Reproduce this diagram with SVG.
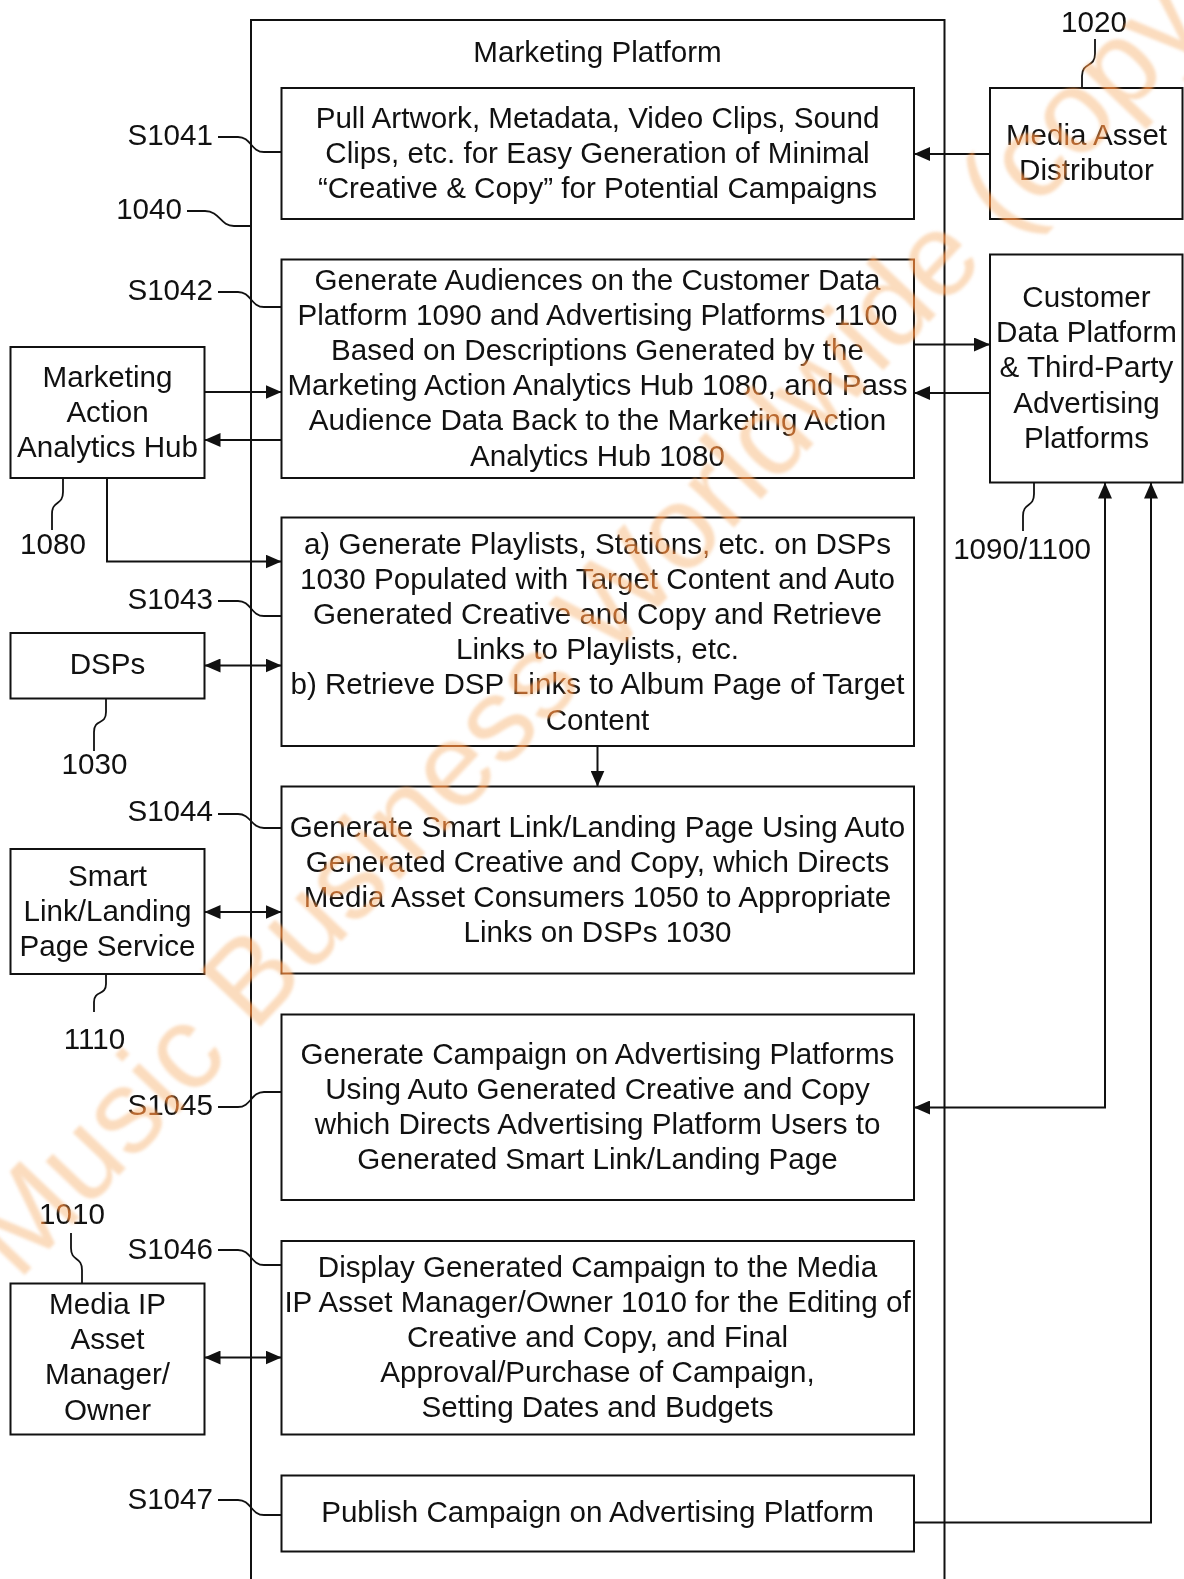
<svg xmlns="http://www.w3.org/2000/svg" width="1184" height="1579" viewBox="0 0 1184 1579">
  <style>
    .box { fill: #fff; stroke: #111; stroke-width: 2; }
    .frame { fill: none; stroke: #111; stroke-width: 2; }
    .wire { fill: none; stroke: #111; stroke-width: 2; }
    .lead { fill: none; stroke: #111; stroke-width: 1.8; }
    text { font-family: "Liberation Sans", Arial, Helvetica, sans-serif; font-size: 29.6px; fill: #111; }
    .c { text-anchor: middle; }
    .r { text-anchor: end; }
    .wm { font-family: "Liberation Sans", Arial, sans-serif; font-size: 118.5px; }
    .wm-glow { fill: #B87030; mix-blend-mode: screen; }
    .wm-tint { fill: #FBDCBE; mix-blend-mode: multiply; }
  </style>
  <defs>
    <marker id="arrow" viewBox="0 0 16 14" refX="16" refY="7" markerWidth="16" markerHeight="14" markerUnits="userSpaceOnUse" orient="auto-start-reverse">
      <path d="M0,0 L16,7 L0,14 Z" fill="#111"/>
    </marker>
    <filter id="soft" x="-5%" y="-5%" width="110%" height="110%">
      <feGaussianBlur stdDeviation="1.4"/>
    </filter>
  </defs>

  <rect width="1184" height="1579" fill="#fff"/>

  <!-- Marketing platform enclosure (open at the bottom) -->
  <g id="marketing-platform">
    <path class="frame" d="M251,1579 V20 H944.5 V1579"/>
    <text class="c" x="597.5" y="62">Marketing Platform</text>
  </g>

  <!-- Process steps inside the platform -->
  <g id="s1041">
    <rect class="box" x="281.5" y="88" width="632.5" height="131"/>
    <text class="c" x="597.5" y="128">Pull Artwork, Metadata, Video Clips, Sound</text>
    <text class="c" x="597.5" y="163">Clips, etc. for Easy Generation of Minimal</text>
    <text class="c" x="597.5" y="198">“Creative &amp; Copy” for Potential Campaigns</text>
  </g>

  <g id="s1042">
    <rect class="box" x="281.5" y="259.5" width="632.5" height="218.5"/>
    <text class="c" x="597.5" y="289.5">Generate Audiences on the Customer Data</text>
    <text class="c" x="597.5" y="324.7">Platform 1090 and Advertising Platforms 1100</text>
    <text class="c" x="597.5" y="359.9">Based on Descriptions Generated by the</text>
    <text class="c" x="597.5" y="395.1">Marketing Action Analytics Hub 1080, and Pass</text>
    <text class="c" x="597.5" y="430.3">Audience Data Back to the Marketing Action</text>
    <text class="c" x="597.5" y="465.5">Analytics Hub 1080</text>
  </g>

  <g id="s1043">
    <rect class="box" x="281.5" y="517.5" width="632.5" height="228.5"/>
    <text class="c" x="597.5" y="553.5">a) Generate Playlists, Stations, etc. on DSPs</text>
    <text class="c" x="597.5" y="588.7">1030 Populated with Target Content and Auto</text>
    <text class="c" x="597.5" y="623.9">Generated Creative and Copy and Retrieve</text>
    <text class="c" x="597.5" y="659.1">Links to Playlists, etc.</text>
    <text class="c" x="597.5" y="694.3">b) Retrieve DSP Links to Album Page of Target</text>
    <text class="c" x="597.5" y="729.5">Content</text>
  </g>

  <g id="s1044">
    <rect class="box" x="281.5" y="786.5" width="632.5" height="187"/>
    <text class="c" x="597.5" y="837">Generate Smart Link/Landing Page Using Auto</text>
    <text class="c" x="597.5" y="872">Generated Creative and Copy, which Directs</text>
    <text class="c" x="597.5" y="907">Media Asset Consumers 1050 to Appropriate</text>
    <text class="c" x="597.5" y="942">Links on DSPs 1030</text>
  </g>

  <g id="s1045">
    <rect class="box" x="281.5" y="1014.5" width="632.5" height="185.5"/>
    <text class="c" x="597.5" y="1064">Generate Campaign on Advertising Platforms</text>
    <text class="c" x="597.5" y="1099">Using Auto Generated Creative and Copy</text>
    <text class="c" x="597.5" y="1134">which Directs Advertising Platform Users to</text>
    <text class="c" x="597.5" y="1169">Generated Smart Link/Landing Page</text>
  </g>

  <g id="s1046">
    <rect class="box" x="281.5" y="1241" width="632.5" height="193.5"/>
    <text class="c" x="597.5" y="1276.5">Display Generated Campaign to the Media</text>
    <text class="c" x="597.5" y="1311.7">IP Asset Manager/Owner 1010 for the Editing of</text>
    <text class="c" x="597.5" y="1346.9">Creative and Copy, and Final</text>
    <text class="c" x="597.5" y="1382.1">Approval/Purchase of Campaign,</text>
    <text class="c" x="597.5" y="1417.3">Setting Dates and Budgets</text>
  </g>

  <g id="s1047">
    <rect class="box" x="281.5" y="1475.5" width="632.5" height="76"/>
    <text class="c" x="597.5" y="1521.5">Publish Campaign on Advertising Platform</text>
  </g>

  <!-- External entities on the left -->
  <g id="analytics-hub">
    <rect class="box" x="10.5" y="347" width="194" height="131"/>
    <text class="c" x="107.5" y="386.5">Marketing</text>
    <text class="c" x="107.5" y="421.5">Action</text>
    <text class="c" x="107.5" y="456.5">Analytics Hub</text>
  </g>

  <g id="dsps">
    <rect class="box" x="10.5" y="633" width="194" height="65.5"/>
    <text class="c" x="107.5" y="674">DSPs</text>
  </g>

  <g id="smart-link-service">
    <rect class="box" x="10.5" y="849" width="194" height="125"/>
    <text class="c" x="107.5" y="885.5">Smart</text>
    <text class="c" x="107.5" y="920.7">Link/Landing</text>
    <text class="c" x="107.5" y="955.9">Page Service</text>
  </g>

  <g id="media-ip-owner">
    <rect class="box" x="10.5" y="1283.5" width="194" height="151"/>
    <text class="c" x="107.5" y="1314">Media IP</text>
    <text class="c" x="107.5" y="1349.2">Asset</text>
    <text class="c" x="107.5" y="1384.4">Manager/</text>
    <text class="c" x="107.5" y="1419.6">Owner</text>
  </g>

  <!-- External entities on the right -->
  <g id="media-asset-distributor">
    <rect class="box" x="990" y="88" width="192.5" height="131"/>
    <text class="c" x="1086.5" y="144.5">Media Asset</text>
    <text class="c" x="1086.5" y="179.7">Distributor</text>
  </g>

  <g id="customer-data-platform">
    <rect class="box" x="990" y="254.5" width="192.5" height="228"/>
    <text class="c" x="1086.5" y="307">Customer</text>
    <text class="c" x="1086.5" y="342.2">Data Platform</text>
    <text class="c" x="1086.5" y="377.4">&amp; Third-Party</text>
    <text class="c" x="1086.5" y="412.6">Advertising</text>
    <text class="c" x="1086.5" y="447.8">Platforms</text>
  </g>

  <!-- Connectors -->
  <g id="connectors">
    <path class="wire" d="M990,154 H914" marker-end="url(#arrow)"/>
    <path class="wire" d="M204.5,392 H281.5" marker-end="url(#arrow)"/>
    <path class="wire" d="M281.5,440 H204.5" marker-end="url(#arrow)"/>
    <path class="wire" d="M914,344.5 H990" marker-end="url(#arrow)"/>
    <path class="wire" d="M990,393 H914" marker-end="url(#arrow)"/>
    <path class="wire" d="M107,478 V561.5 H281.5" marker-end="url(#arrow)"/>
    <path class="wire" d="M204.5,665.5 H281.5" marker-start="url(#arrow)" marker-end="url(#arrow)"/>
    <path class="wire" d="M597.5,746 V786.5" marker-end="url(#arrow)"/>
    <path class="wire" d="M204.5,912 H281.5" marker-start="url(#arrow)" marker-end="url(#arrow)"/>
    <path class="wire" d="M914,1107.5 H1105 V482.5" marker-start="url(#arrow)" marker-end="url(#arrow)"/>
    <path class="wire" d="M204.5,1357.5 H281.5" marker-start="url(#arrow)" marker-end="url(#arrow)"/>
    <path class="wire" d="M914,1522.5 H1151 V482.5" marker-end="url(#arrow)"/>
  </g>

  <!-- Reference numerals and their lead lines -->
  <g id="reference-labels">
    <text x="1094" y="31.5" class="c">1020</text>
    <path class="lead" d="M1095,39 V54 C1095,68 1082,62 1082,76 V88"/>

    <text x="182" y="219" class="r">1040</text>
    <path class="lead" d="M187,211 H205 C220,211 220,226 234,226 H251"/>

    <text x="213" y="145" class="r">S1041</text>
    <path class="lead" d="M218,137 H238 C251,137 251,152 264,152 H281.5"/>

    <text x="213" y="300" class="r">S1042</text>
    <path class="lead" d="M218,292 H238 C251,292 251,307 264,307 H281.5"/>

    <text x="53" y="554" class="c">1080</text>
    <path class="lead" d="M63,478 V492 C63,506 52,500 52,514 V530"/>

    <text x="213" y="608.5" class="r">S1043</text>
    <path class="lead" d="M218,601 H238 C251,601 251,616 264,616 H281.5"/>

    <text x="94.5" y="773.5" class="c">1030</text>
    <path class="lead" d="M106,698.5 V712 C106,726 94,718 94,732 V751"/>

    <text x="213" y="821" class="r">S1044</text>
    <path class="lead" d="M218,814 H238 C251,814 251,828 264,828 H281.5"/>

    <text x="94.5" y="1048.5" class="c">1110</text>
    <path class="lead" d="M106,974 V984 C106,996 94,990 94,1002 V1012"/>

    <text x="213" y="1115" class="r">S1045</text>
    <path class="lead" d="M218,1107 H238 C251,1107 251,1092 264,1092 H281.5"/>

    <text x="72" y="1224" class="c">1010</text>
    <path class="lead" d="M71,1233 V1248 C71,1262 82,1256 82,1270 V1283.5"/>

    <text x="213" y="1259" class="r">S1046</text>
    <path class="lead" d="M218,1250 H238 C251,1250 251,1265 264,1265 H281.5"/>

    <text x="213" y="1509" class="r">S1047</text>
    <path class="lead" d="M218,1500 H238 C251,1500 251,1515 264,1515 H281.5"/>

    <text x="1022" y="558.5" class="c">1090/1100</text>
    <path class="lead" d="M1034,482.5 V494 C1034,508 1023,502 1023,516 V531"/>
  </g>

  <!-- Diagonal publisher watermark laid over the drawing:
       a screen pass tints dark strokes orange, a multiply pass tints the paper peach -->
  <g id="watermark">
    <text class="wm wm-glow" filter="url(#soft)" transform="translate(18,1282) rotate(-46.5)">Music Business Worldwide (copy</text>
    <text class="wm wm-tint" filter="url(#soft)" transform="translate(18,1282) rotate(-46.5)">Music Business Worldwide (copy</text>
  </g>
</svg>
